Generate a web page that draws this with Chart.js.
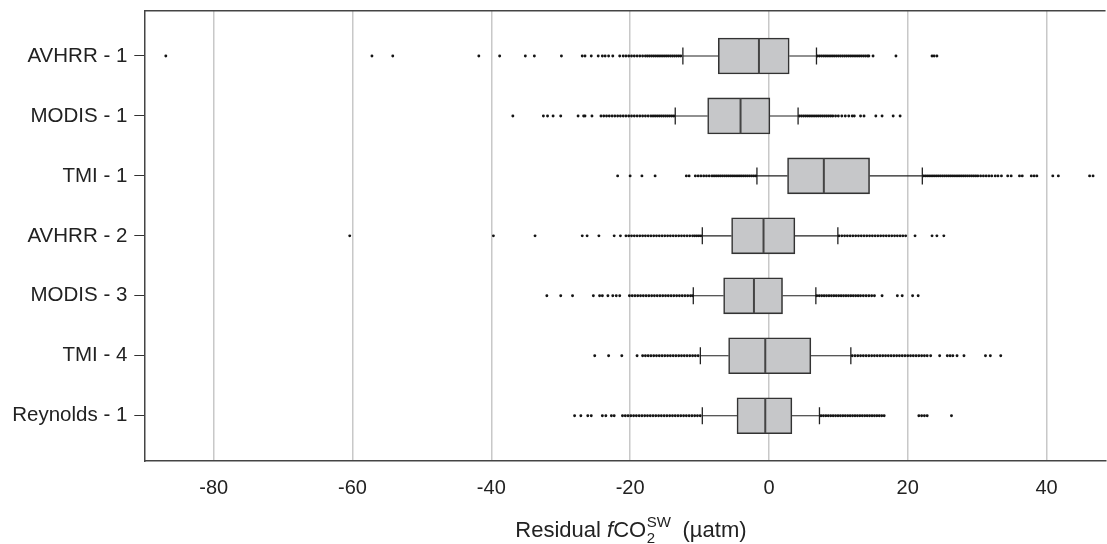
<!DOCTYPE html>
<html>
<head>
<meta charset="utf-8">
<script src="https://cdn.jsdelivr.net/npm/chart.js@4.4.1/dist/chart.umd.min.js"></script>
<style>
  html, body { margin: 0; padding: 0; background: #ffffff; }
  #wrap { width: 1107px; height: 544px; position: relative; }
</style>
</head>
<body>
<div id="wrap"><canvas id="c"></canvas></div>
<script>
// ---------- data ----------
const categories = ['AVHRR - 1', 'MODIS - 1', 'TMI - 1', 'AVHRR - 2', 'MODIS - 3', 'TMI - 4', 'Reynolds - 1'];
const xTicks = [-80, -60, -40, -20, 0, 20, 40];
const q1 = [-7.3, -8.83, 2.68, -5.38, -6.53, -5.81, -4.6];
const medians = [-1.44, -4.09, 7.91, -0.78, -2.16, -0.53, -0.53];
const q3 = [2.92, 0.14, 14.5, 3.74, 1.96, 6.04, 3.31];
const whiskerLow = [-12.4, -13.5, -1.73, -9.6, -10.9, -9.88, -9.6];
const whiskerHigh = [6.85, 4.2, 22.1, 9.93, 6.76, 11.8, 7.28];

const outAVHRR1 = [-86.9, -57.2, -54.2, -41.8, -38.8, -35.1, -33.8, -29.9, -26.9, -26.5, -25.6, -24.6, -24.0, -23.6, -23.1, -22.5,
  -21.5, -21.0, -20.6, -20.2, -19.8, -19.4, -19.0, -18.6, -18.2, -17.8, -17.5,
  -17.2, -16.9, -16.6, -16.3, -16.0, -15.7, -15.4, -15.1, -14.8, -14.5, -14.2, -13.9, -13.6, -13.3, -13.0, -12.7,
  7.0, 7.3, 7.6, 7.9, 8.2, 8.5, 8.8, 9.1, 9.4, 9.7, 10.0, 10.3, 10.6, 10.9, 11.2, 11.5, 11.8, 12.1, 12.4, 12.7, 13.0, 13.3, 13.6, 13.9, 14.2, 14.4,
  15.0, 18.3, 23.5, 23.8, 24.2];
const outMODIS1 = [-36.9, -32.5, -31.9, -31.1, -30.0, -27.5, -26.7, -26.5, -25.5, -24.2, -23.8, -23.4, -23.0, -22.6, -22.2, -21.8, -21.4,
  -21.0, -20.6, -20.2, -19.8, -19.4, -19.0, -18.6, -18.2, -17.8, -17.4, -17.0,
  -16.7, -16.4, -16.1, -15.8, -15.5, -15.2, -14.9, -14.6, -14.3, -14.0, -13.7,
  4.4, 4.7, 5.0, 5.3, 5.6, 5.9, 6.2, 6.5, 6.8, 7.1, 7.4, 7.7, 8.0, 8.3, 8.6, 8.9, 9.2, 9.6, 10.0, 10.5, 11.0, 11.5, 12.0, 12.3,
  13.2, 13.7, 15.4, 16.3, 17.9, 18.9];
const outTMI1 = [-21.8, -20.0, -18.3, -16.4, -11.9, -11.5,
  -10.6, -10.2, -9.8, -9.4, -9.0, -8.6, -8.2, -7.9, -7.6, -7.3, -7.0, -6.7, -6.4, -6.1, -5.8, -5.5, -5.2, -4.9, -4.6, -4.3, -4.0, -3.7, -3.4, -3.1, -2.8, -2.5, -2.2, -1.9,
  22.3, 22.6, 22.9, 23.2, 23.5, 23.8, 24.1, 24.4, 24.7, 25.0, 25.3, 25.6, 25.9, 26.2, 26.5, 26.8, 27.1, 27.4, 27.7, 28.0, 28.3, 28.6, 28.9, 29.2, 29.5, 29.8,
  30.1, 30.5, 30.9, 31.3, 31.7, 32.1, 32.6, 33.0, 33.5, 34.4, 34.9, 36.1, 36.5, 37.8, 38.2, 38.6, 40.9, 41.7, 46.2, 46.7];
const outAVHRR2 = [-60.4, -39.7, -33.7, -26.9, -26.2, -24.5, -22.3, -21.4,
  -20.6, -20.2, -19.8, -19.4, -19.0, -18.6, -18.2, -17.8, -17.4, -17.0, -16.6, -16.2, -15.8, -15.4, -15.0, -14.6, -14.2, -13.8,
  -13.4, -13.0, -12.6, -12.2, -11.8, -11.4, -11.0, -10.7, -10.4, -10.1, -9.8,
  10.1, 10.5, 10.9, 11.3, 11.7, 12.1, 12.5, 12.9, 13.3, 13.7, 14.1, 14.5, 14.9, 15.3, 15.7, 16.1, 16.5, 16.9, 17.3, 17.7, 18.1, 18.5, 18.9, 19.3, 19.7,
  21.05, 23.5, 24.2, 25.2];
const outMODIS3 = [-32.0, -30.0, -28.3, -25.3, -24.4, -24.0, -23.2, -22.5, -22.0, -21.5,
  -20.1, -19.7, -19.3, -18.9, -18.5, -18.1, -17.7, -17.3, -16.9, -16.5, -16.1, -15.7, -15.3, -14.9, -14.5, -14.1, -13.7, -13.3, -12.9, -12.5, -12.1, -11.7, -11.3, -11.0,
  6.9, 7.25, 7.6, 7.95, 8.3, 8.65, 9.0, 9.35, 9.7, 10.05, 10.4, 10.75, 11.1, 11.45, 11.8, 12.15, 12.5, 12.85, 13.2, 13.6, 14.0, 14.4, 14.8, 15.2,
  16.3, 18.5, 19.2, 20.7, 21.5];
const outTMI4 = [-25.1, -23.1, -21.2, -19.0,
  -18.2, -17.8, -17.4, -17.0, -16.6, -16.2, -15.8, -15.4, -15.0, -14.6, -14.2, -13.8, -13.4, -13.0, -12.6, -12.2, -11.8, -11.4, -11.0, -10.6, -10.2,
  12.0, 12.4, 12.8, 13.2, 13.6, 14.0, 14.4, 14.8, 15.2, 15.6, 16.0, 16.4, 16.8, 17.2, 17.6, 18.0, 18.4, 18.8, 19.2, 19.6, 20.0, 20.4, 20.8, 21.2, 21.6, 22.0, 22.4, 22.8, 23.3,
  24.6, 25.7, 26.1, 26.5, 27.1, 28.1, 31.2, 31.9, 33.4];
const outReynolds1 = [-28.0, -27.1, -26.1, -25.6, -24.0, -23.5, -22.7, -22.3,
  -21.1, -20.7, -20.3, -19.9, -19.5, -19.1, -18.7, -18.3, -17.9, -17.5, -17.1, -16.7, -16.3, -15.9, -15.5, -15.1, -14.7, -14.3,
  -13.9, -13.5, -13.1, -12.7, -12.3, -11.9, -11.5, -11.1, -10.7, -10.3, -9.9,
  7.5, 7.85, 8.2, 8.55, 8.9, 9.25, 9.6, 9.95, 10.3, 10.65, 11.0, 11.35, 11.7, 12.05, 12.4, 12.75, 13.1, 13.45, 13.8, 14.15, 14.5, 14.85, 15.2, 15.55, 15.9, 16.25, 16.6,
  21.6, 22.0, 22.4, 22.8, 26.3];
const outliers = [outAVHRR1, outMODIS1, outTMI1, outAVHRR2, outMODIS3, outTMI4, outReynolds1];

// ---------- build datasets ----------
const boxData = categories.map((c, i) => ({ x: [q1[i], q3[i]], y: i }));
const outlierData = [];
outliers.forEach((arr, i) => arr.forEach(v => outlierData.push({ x: v, y: i })));

const FONT = "'Liberation Sans', Arial, Helvetica, sans-serif";

const boxPlugin = {
  id: 'boxParts',
  beforeDatasetsDraw(chart) {
    const { ctx, chartArea, scales: { x, y } } = chart;
    ctx.save();
    ctx.beginPath();
    ctx.rect(chartArea.left, chartArea.top, chartArea.right - chartArea.left, chartArea.bottom - chartArea.top);
    ctx.clip();
    ctx.strokeStyle = '#222';
    categories.forEach((c, i) => {
      const py = y.getPixelForValue(i);
      ctx.lineWidth = 1.1;
      ctx.beginPath();
      ctx.moveTo(x.getPixelForValue(whiskerLow[i]), py);
      ctx.lineTo(x.getPixelForValue(q1[i]), py);
      ctx.moveTo(x.getPixelForValue(q3[i]), py);
      ctx.lineTo(x.getPixelForValue(whiskerHigh[i]), py);
      ctx.stroke();
      ctx.lineWidth = 1.3;
      ctx.beginPath();
      [whiskerLow[i], whiskerHigh[i]].forEach(v => {
        const px = x.getPixelForValue(v);
        ctx.moveTo(px, py - 8.5);
        ctx.lineTo(px, py + 8.5);
      });
      ctx.stroke();
    });
    ctx.restore();
  },
  afterDatasetsDraw(chart) {
    const { ctx, scales: { x, y } } = chart;
    ctx.save();
    ctx.strokeStyle = '#444';
    ctx.lineWidth = 2;
    categories.forEach((c, i) => {
      const py = y.getPixelForValue(i);
      const px = x.getPixelForValue(medians[i]);
      ctx.beginPath();
      ctx.moveTo(px, py - 17.5);
      ctx.lineTo(px, py + 17.5);
      ctx.stroke();
    });
    ctx.restore();
  },
  afterDraw(chart) {
    const { ctx, chartArea } = chart;
    ctx.save();
    // top frame line
    ctx.strokeStyle = '#444';
    ctx.lineWidth = 1.5;
    ctx.beginPath();
    ctx.moveTo(chartArea.left, chartArea.top);
    ctx.lineTo(chartArea.right, chartArea.top);
    ctx.stroke();
    // axis title: Residual fCO2^SW (µatm)
    const big = '22px ' + FONT;
    const ital = 'italic 22px ' + FONT;
    const small = '15px ' + FONT;
    const parts = [
      { t: 'Residual ', f: big },
      { t: 'f', f: ital },
      { t: 'CO', f: big }
    ];
    let w = 0;
    parts.forEach(p => { ctx.font = p.f; p.w = ctx.measureText(p.t).width; w += p.w; });
    ctx.font = small;
    const wScript = Math.max(ctx.measureText('2').width, ctx.measureText('SW').width);
    ctx.font = big;
    const tail = '  (\u00B5atm)';
    const wTail = ctx.measureText(tail).width;
    const total = w + wScript + wTail;
    const cx = (chartArea.left + chartArea.right) / 2 + 6;
    let xx = cx - total / 2;
    const base = 537;
    ctx.fillStyle = '#222';
    ctx.textBaseline = 'alphabetic';
    ctx.textAlign = 'left';
    parts.forEach(p => { ctx.font = p.f; ctx.fillText(p.t, xx, base); xx += p.w; });
    ctx.font = small;
    ctx.fillText('2', xx + 0.5, base + 6);
    ctx.fillText('SW', xx + 0.5, base - 10);
    xx += wScript;
    ctx.font = big;
    ctx.fillText(tail, xx, base);
    ctx.restore();
  }
};

new Chart(document.getElementById('c'), {
  type: 'bar',
  data: {
    datasets: [
      {
        type: 'scatter',
        data: outlierData,
        pointRadius: 1.45,
        pointBorderWidth: 0,
        pointBackgroundColor: '#141414',
        pointHoverRadius: 1.45,
        showLine: false
      },
      {
        type: 'bar',
        data: boxData,
        backgroundColor: '#c6c7c9',
        borderColor: '#333',
        borderWidth: 1.6,
        borderSkipped: false,
        barThickness: 36
      }
    ]
  },
  options: {
    indexAxis: 'y',
    responsive: true,
    maintainAspectRatio: false,
    animation: false,
    events: [],
    layout: { padding: { top: 10.7, left: 0, right: 0, bottom: 0 } },
    plugins: { legend: { display: false }, tooltip: { enabled: false } },
    scales: {
      x: {
        type: 'linear',
        position: 'bottom',
        offset: false,
        min: -90,
        max: 48.5,
        afterBuildTicks(scale) { scale.ticks = xTicks.map(v => ({ value: v })); },
        afterFit(scale) { scale.height = 83; scale.paddingLeft = 0; scale.paddingRight = 0; },
        grid: { color: '#c8c8c8', lineWidth: 1.5, drawTicks: false, offset: false },
        border: { display: true, color: '#444', width: 1.5 },
        ticks: { font: { family: FONT, size: 20 }, color: '#222', padding: 15, maxRotation: 0 }
      },
      y: {
        type: 'linear',
        position: 'left',
        reverse: true,
        offset: false,
        min: -0.755,
        max: 6.755,
        afterBuildTicks(scale) { scale.ticks = categories.map((c, i) => ({ value: i })); },
        afterFit(scale) { scale.width = 144.3; scale.paddingTop = 0; scale.paddingBottom = 0; },
        grid: { drawOnChartArea: false, color: '#333', lineWidth: 1, tickLength: 10, offset: false },
        border: { display: true, color: '#444', width: 1.5 },
        ticks: {
          font: { family: FONT, size: 20.5 },
          color: '#222',
          padding: 7,
          callback: (v) => categories[v]
        }
      }
    }
  },
  plugins: [boxPlugin]
});
</script>
</body>
</html>
